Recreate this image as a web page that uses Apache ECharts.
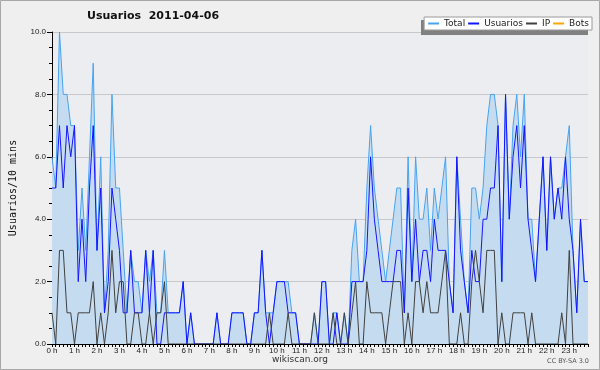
<!DOCTYPE html>
<html>
<head>
<meta charset="utf-8">
<script src="https://cdn.jsdelivr.net/npm/echarts@6/dist/echarts.min.js"></script>
<style>
html,body{margin:0;padding:0;background:#efefef;}
#chart{width:600px;height:370px;}
</style>
</head>
<body>
<div id="chart"></div>
<script>
// ---- data (10-minute buckets, 2011-04-06) ----
const hourLabels = ['0 h','1 h','2 h','3 h','4 h','5 h','6 h','7 h','8 h','9 h','10 h','11 h',
  '12 h','13 h','14 h','15 h','16 h','17 h','18 h','19 h','20 h','21 h','22 h','23 h'];
const yTicks = [0, 2, 4, 6, 8, 10];

const total = [
  6,5,10,8,8,7,7,3,5,3,6,9,
  3,6,1,3,8,5,5,3,1,3,2,2,
  1,3,2,3,1,1,3,1,1,1,1,2,
  0,1,0,0,0,0,0,0,1,0,0,0,
  1,1,1,1,0,0,1,1,3,1,1,1,
  2,2,2,2,1,1,0,0,0,0,1,0,
  2,2,0,1,1,0,1,0,3,4,2,2,
  5,7,5,4,3,2,3,4,5,5,1,6,
  2,6,4,4,5,3,5,4,5,6,2,1,
  6,4,2,1,5,5,4,5,7,8,8,7,
  2,8,4,7,8,6,8,4,4,2,4,6,
  3,6,4,5,5,6,7,3,1,4,2,2
];
const usuarios = [
  5,5,7,5,7,6,7,2,4,2,5,7,
  3,5,1,2,5,4,3,1,1,3,1,1,
  1,3,1,3,0,0,1,1,1,1,1,2,
  0,1,0,0,0,0,0,0,1,0,0,0,
  1,1,1,1,0,0,1,1,3,1,0,1,
  2,2,2,1,1,1,0,0,0,0,0,0,
  2,2,0,0,1,0,0,0,2,2,2,2,
  3,6,4,3,2,2,2,2,3,3,1,5,
  2,4,2,3,3,2,4,3,3,3,2,1,
  6,3,2,1,3,2,2,4,4,5,5,7,
  2,8,4,6,7,5,7,4,3,2,4,6,
  3,6,4,5,4,6,4,3,1,4,2,2
];
const ip = [
  1,0,3,3,1,1,0,1,1,1,1,2,
  0,1,0,1,3,1,2,2,0,0,1,1,
  0,0,1,0,1,1,2,0,0,0,0,0,
  0,0,0,0,0,0,0,0,0,0,0,0,
  0,0,0,0,0,0,0,0,0,0,1,0,
  0,0,0,1,0,0,0,0,0,0,1,0,
  0,0,0,1,0,0,1,0,1,2,0,0,
  2,1,1,1,1,0,1,2,2,2,0,1,
  0,2,2,1,2,1,1,1,2,3,0,0,
  0,1,0,0,2,3,2,1,3,3,3,0,
  1,0,0,1,1,1,1,0,1,0,0,0,
  0,0,0,0,1,0,3,0,0,0,0,0
];
const bots = [
  0,0,0,0,0,0,0,0,0,0,0,0,
  0,0,0,0,0,0,0,0,0,0,0,0,
  0,0,0,0,0,0,0,0,0,0,0,0,
  0,0,0,0,0,0,0,0,0,0,0,0,
  0,0,0,0,0,0,0,0,0,0,0,0,
  0,0,0,0,0,0,0,0,0,0,0,0,
  0,0,0,0,0,0,0,0,0,0,0,0,
  0,0,0,0,0,0,0,0,0,0,0,0,
  0,0,0,0,0,0,0,0,0,0,0,0,
  0,0,0,0,0,0,0,0,0,0,0,0,
  0,0,0,0,0,0,0,0,0,0,0,0,
  0,0,0,0,0,0,0,0,0,0,0,0
];

const seriesNames = ['Total', 'Usuarios', 'IP', 'Bots'];
const seriesColors = ['#46a3f2', '#1414ff', '#404040', '#ffa500'];

// category per 10-minute slot
const slots = [];
hourLabels.forEach((h, hi) => { for (let m = 0; m < 6; m++) slots.push(hi + ':' + m + '0'); });

const chart = echarts.init(document.getElementById('chart'), null, {renderer: 'canvas'});
const lbl = {fontFamily: 'Liberation Sans', fontSize: 8, color: '#222'};

chart.setOption({
  backgroundColor: '#efefef',
  animation: false,
  title: {
    text: 'Usuarios  2011-04-06',
    left: 82, top: 6,
    textStyle: {fontFamily: 'DejaVu Sans', fontSize: 11, fontWeight: 'bold', color: '#111'}
  },
  legend: {
    right: 8, top: 17, z: 10,
    itemWidth: 11, itemHeight: 2, itemGap: 3,
    padding: [2, 3, 2, 4],
    backgroundColor: '#ffffff',
    borderColor: '#9a9a9a', borderWidth: 1,
    textStyle: {fontFamily: 'DejaVu Sans', fontSize: 9, color: '#222'},
    data: seriesNames.map((n, i) => ({
      name: n,
      icon: 'rect',
      itemStyle: {color: seriesColors[i], borderWidth: 0}
    }))
  },
  grid: {
    left: 46, right: 12, top: 32, bottom: 26,
    show: true, backgroundColor: '#ecedf0', borderWidth: 0
  },
  xAxis: {
    type: 'category', data: slots, boundaryGap: false, z: 5,
    axisLine: {lineStyle: {color: '#000', width: 1}},
    axisTick: {interval: 0, length: 3, lineStyle: {color: '#000'}},
    axisLabel: {
      interval: 5, margin: 3, ...lbl,
      formatter: (v, idx) => hourLabels[Math.floor(idx / 6)]
    },
    splitLine: {show: false}
  },
  yAxis: {
    type: 'value', min: 0, max: 10, interval: 2,
    name: 'Usuarios/10 mins', nameLocation: 'middle', nameGap: 34, nameRotate: 90,
    nameTextStyle: {fontFamily: 'DejaVu Sans Mono', fontSize: 10, color: '#111'},
    axisLine: {show: true, lineStyle: {color: '#000'}},
    axisTick: {show: true, length: 5, lineStyle: {color: '#000'}},
    minorTick: {show: true, splitNumber: 4, length: 3, lineStyle: {color: '#000'}},
    axisLabel: {margin: 6, ...lbl, formatter: v => yTicks.includes(v) ? v.toFixed(1) : ''},
    splitLine: {show: true, lineStyle: {color: '#c8c8cc', width: 1}}
  },
  series: [
    {name: seriesNames[0], type: 'line', data: total, symbol: 'none',
     lineStyle: {color: seriesColors[0], width: 1}, itemStyle: {color: seriesColors[0]},
     areaStyle: {color: '#c5dcf0', opacity: 1}, z: 2},
    {name: seriesNames[1], type: 'line', data: usuarios, symbol: 'none',
     lineStyle: {color: seriesColors[1], width: 1}, itemStyle: {color: seriesColors[1]}, z: 3},
    {name: seriesNames[2], type: 'line', data: ip, symbol: 'none',
     lineStyle: {color: seriesColors[2], width: 1}, itemStyle: {color: seriesColors[2]}, z: 4},
    {name: seriesNames[3], type: 'line', data: bots, symbol: 'none',
     lineStyle: {color: seriesColors[3], width: 1}, itemStyle: {color: seriesColors[3]}, z: 1}
  ],
  graphic: [
    {type: 'rect', shape: {x: 0.5, y: 0.5, width: 599, height: 369},
     style: {fill: 'none', stroke: '#a8a8a8', lineWidth: 1}, silent: true},
    {type: 'rect', z: 9, shape: {x: 421, y: 20, width: 167, height: 15},
     style: {fill: '#808080'}, silent: true},
    {type: 'text', left: 'center', top: 355,
     style: {text: 'wikiscan.org', font: '9px "DejaVu Sans"', fill: '#333'}},
    {type: 'text', right: 11, top: 358,
     style: {text: 'CC BY-SA 3.0', font: '6.5px "DejaVu Sans"', fill: '#555'}}
  ]
});
</script>
</body>
</html>
